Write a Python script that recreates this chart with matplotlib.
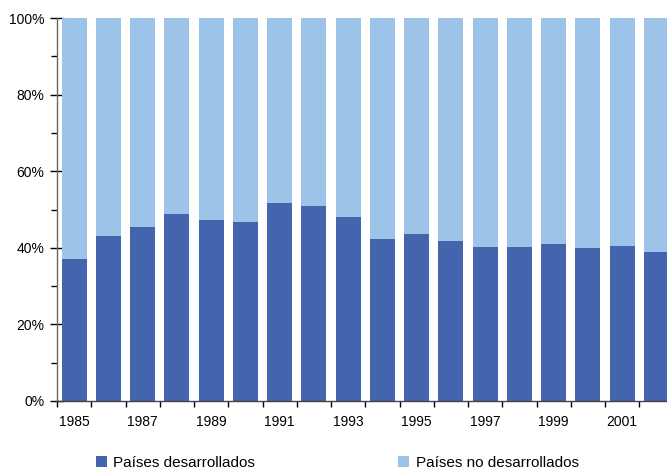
import matplotlib
matplotlib.use("Agg")
import matplotlib.pyplot as plt
from matplotlib.ticker import FixedLocator, FuncFormatter, MultipleLocator
import numpy as np

years = list(range(1985, 2003))
desarrollados = [37.1, 43.1, 45.4, 48.8, 47.3, 46.7, 51.7, 50.9, 48.0, 42.3,
                 43.6, 41.8, 40.2, 40.2, 41.0, 39.9, 40.5, 38.9]
no_desarrollados = [100 - v for v in desarrollados]
year_labels = [str(y) if (y - 1985) % 2 == 0 else "" for y in years]

dark = "#4464ae"
light = "#9ec3e8"

plt.rcParams['font.family'] = ['Liberation Sans', 'DejaVu Sans']

fig = plt.figure(figsize=(6.67, 4.70), dpi=100)
ax = fig.add_axes([57/667, 69/470, (673.5-57)/667, (401-18)/470])

x = np.arange(len(years))
ax.bar(x, desarrollados, width=0.73, color=dark, label="Países desarrollados", zorder=2)
ax.bar(x, no_desarrollados, width=0.73, bottom=desarrollados, color=light,
       label="Países no desarrollados", zorder=2)

ax.set_xlim(-0.5, len(years) - 0.5)
ax.set_ylim(0, 100)

for s in ["top", "right"]:
    ax.spines[s].set_visible(False)
ax.spines["left"].set_color("#666666")
ax.spines["bottom"].set_color("#444444")
ax.spines["left"].set_linewidth(1.0)
ax.spines["bottom"].set_linewidth(1.0)

ax.yaxis.set_major_locator(MultipleLocator(20))
ax.yaxis.set_minor_locator(MultipleLocator(10))
ax.yaxis.set_major_formatter(FuncFormatter(lambda v, p: f"{int(v)}%"))
ax.tick_params(axis="y", which="major", direction="inout", length=10, width=1,
               labelsize=10, pad=4, colors="black")
ax.tick_params(axis="y", which="minor", direction="out", length=4, width=1, colors="black")

ax.set_xticks(x)
ax.set_xticklabels(year_labels)
ax.xaxis.set_minor_locator(FixedLocator(np.arange(-0.5, len(years), 1.0)))
ax.tick_params(axis="x", which="major", length=0, labelsize=10, pad=10)
ax.tick_params(axis="x", which="minor", direction="out", length=4, width=1, colors="black")

handles, labels = ax.get_legend_handles_labels()
fig.legend(handles, labels, loc="lower left", bbox_to_anchor=(82/667, -13.5/470),
           ncol=2, frameon=False, fontsize=11, handlelength=0.75, handleheight=0.75,
           handletextpad=0.4, columnspacing=9.35)

fig.savefig("out.png", dpi=100)
